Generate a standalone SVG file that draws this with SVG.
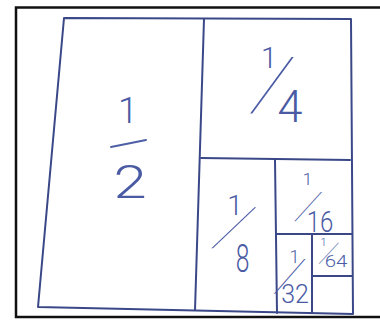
<svg xmlns="http://www.w3.org/2000/svg" width="380" height="320" viewBox="0 0 380 320">
<style>
.pen{fill:none;stroke:#3a4888;stroke-width:2;stroke-linecap:round;stroke-linejoin:round}
.bar{fill:none;stroke:#4f5fa6;stroke-width:2;stroke-linecap:round}
.d{font-family:Roboto,"Open Sans","Liberation Sans",sans-serif;font-weight:300;fill:#4a5ba4;text-anchor:middle}
.s{font-family:Roboto,"Liberation Sans",sans-serif;font-weight:100;fill:#4a5ba4;text-anchor:middle}
</style>
<rect x="0" y="0" width="380" height="320" fill="#ffffff"/>
<rect x="16" y="7.5" width="380" height="309.5" fill="none" stroke="#111111" stroke-width="2.5"/>
<g id="grid">
<path class="pen" d="M64,18 L351,19 L353,314 L38,307 Z"/>
<path class="pen" d="M204,19 L195,310"/>
<path class="pen" d="M201,158 L350,160"/>
<path class="pen" d="M275,160 L277,313"/>
<path class="pen" d="M276,234 L352,234"/>
<path class="pen" d="M312,235 L312,313"/>
<path class="pen" d="M312,276 L352,276"/>
</g>
<g id="half">
<text class="d" x="128" y="123" font-size="36">1</text>
<line class="bar" x1="111" y1="147" x2="146" y2="140"/>
<text class="d" transform="translate(130,198) scale(1.3,1)" font-size="46">2</text>
</g>
<g id="quarter">
<text class="d" x="269" y="68" font-size="29">1</text>
<text class="s" font-size="73" transform="translate(272.5,85) skewX(-19.3)" y="24">/</text>
<text class="d" x="290" y="122" font-size="45">4</text>
</g>
<g id="eighth">
<text class="d" x="235" y="215" font-size="28">1</text>
<text class="s" font-size="53" transform="translate(234,227.5) skewX(-33.8)" y="17">/</text>
<text class="d" transform="translate(242.5,272) scale(0.65,1)" font-size="38">8</text>
</g>
<g id="sixteenth">
<text class="d" x="307.5" y="185" font-size="17">1</text>
<text class="s" font-size="38" transform="translate(308.5,206) skewX(-27.5)" y="12.5">/</text>
<text class="d" transform="translate(320,232) scale(0.8,1)" font-size="30">16</text>
</g>
<g id="thirtysecond">
<text class="d" x="294.5" y="263" font-size="18">1</text>
<text class="s" font-size="45" transform="translate(290,276.5) skewX(-26)" y="14.5">/</text>
<text class="d" x="295" y="303" font-size="25">32</text>
</g>
<g id="sixtyfourth">
<text class="d" x="323.5" y="246" font-size="11">1</text>
<text class="s" font-size="27" transform="translate(329,253) skewX(-28.8)" y="9">/</text>
<text class="d" transform="translate(336,267) scale(1.2,1)" font-size="17">64</text>
</g>
</svg>
